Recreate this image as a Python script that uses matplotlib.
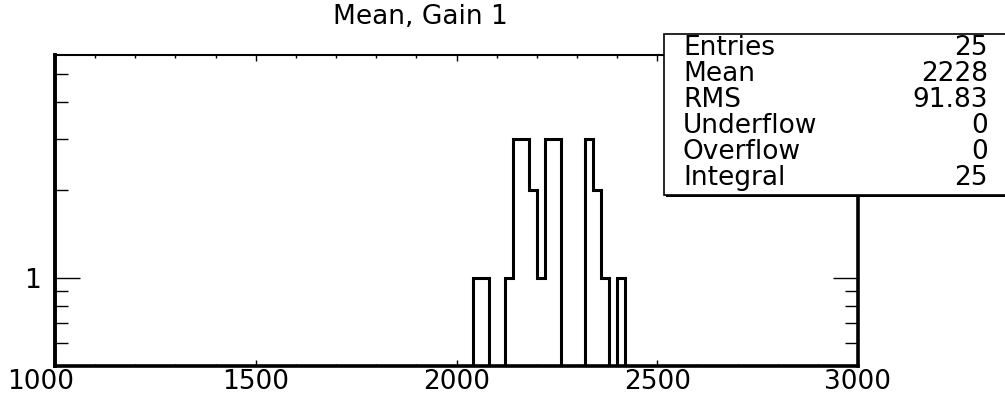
import numpy as np
import matplotlib
matplotlib.use("Agg")
import matplotlib.pyplot as plt
from matplotlib.patches import Rectangle
from matplotlib.transforms import ScaledTranslation
from matplotlib.ticker import FixedLocator, NullFormatter, FixedFormatter

# histogram binning: 100 bins between 1000 and 3000
x_lo, x_hi, n_bins = 1000, 3000, 100

# filled bins (bin centres) and their contents
bin_centers = [2050, 2070, 2130, 2150, 2170, 2190, 2210, 2230, 2250,
               2330, 2350, 2370, 2410]
bin_counts = [1, 1, 1, 3, 3, 2, 1, 3, 3, 3, 2, 1, 1]

title = "Mean, Gain 1"
stat_names = ["Entries", "Mean", "RMS", "Underflow", "Overflow", "Integral"]
stat_values = ["25", "2228", "91.83", "0", "0", "25"]

x_ticks = [1000, 1500, 2000, 2500, 3000]
y_minor = [0.6, 0.7, 0.8, 0.9, 2, 3, 4, 5]

W, H = 1005, 394
fs = 19
plt.rcParams["font.family"] = ["DejaVu Sans"]

edges = np.linspace(x_lo, x_hi, n_bins + 1)
counts, _ = np.histogram(bin_centers, bins=edges, weights=bin_counts)

fig = plt.figure(figsize=(W / 100, H / 100), dpi=100)
ax = fig.add_axes([55 / W, 1 - 366 / H, 803 / W, 311 / H])

ax.set_yscale("log", nonpositive="clip")
ax.stairs(counts, edges, color="black", lw=2.2)
ax.set_xlim(x_lo, x_hi)
ax.set_ylim(0.5, 5.8)

# x axis: labels every 500, minor ticks every 100
ax.set_xticks(x_ticks)
ax.set_xticklabels([str(t) for t in x_ticks])
ax.xaxis.set_minor_locator(FixedLocator(np.arange(1100, 3000, 100)))
ax.tick_params(axis="x", which="major", direction="in", length=4.5, width=1,
               top=True, bottom=True, labelsize=fs, pad=2)
ax.tick_params(axis="x", which="minor", direction="in", length=1.8, width=1,
               top=True, bottom=True)

# y axis: log scale, only "1" labelled
ax.yaxis.set_major_locator(FixedLocator([1]))
ax.yaxis.set_major_formatter(FixedFormatter(["1"]))
ax.yaxis.set_minor_locator(FixedLocator(y_minor))
ax.yaxis.set_minor_formatter(NullFormatter())
ax.tick_params(axis="y", which="major", direction="in", length=18, width=1,
               left=True, right=True, labelsize=fs, pad=10)
ax.tick_params(axis="y", which="minor", direction="in", length=9.5, width=1,
               left=True, right=True)

# nudge first x label left so it stays on the canvas
first = ax.get_xticklabels()[0]
first.set_transform(first.get_transform() + ScaledTranslation(-14 / 100, 0, fig.dpi_scale_trans))

ax.spines["left"].set_linewidth(2.8)
ax.spines["bottom"].set_linewidth(2.6)
ax.spines["right"].set_linewidth(2.6)
ax.spines["top"].set_linewidth(1.5)

fig.text(420 / W, 1 - 17 / H, title, ha="center", va="center", fontsize=fs)

# statistics box with shadow
bx0, by_top, by_bot = 664, 34, 195
shadow = Rectangle(((bx0 + 2) / W, 1 - (by_bot + 2) / H), (W - bx0 + 10) / W,
                   (by_bot - by_top) / H, transform=fig.transFigure,
                   facecolor="black", edgecolor="black", lw=0, zorder=5)
box = Rectangle((bx0 / W, 1 - by_bot / H), (W - bx0 + 10) / W,
                (by_bot - by_top) / H, transform=fig.transFigure,
                facecolor="white", edgecolor="black", lw=1.2, zorder=6)
fig.add_artist(shadow)
fig.add_artist(box)
for i, (name, val) in enumerate(zip(stat_names, stat_values)):
    yb = 1 - (55 + 26 * i) / H
    fig.text(683 / W, yb, name, ha="left", va="baseline", fontsize=fs, zorder=7)
    fig.text(988 / W, yb, val, ha="right", va="baseline", fontsize=fs, zorder=7)

fig.savefig("out.png", dpi=100)
